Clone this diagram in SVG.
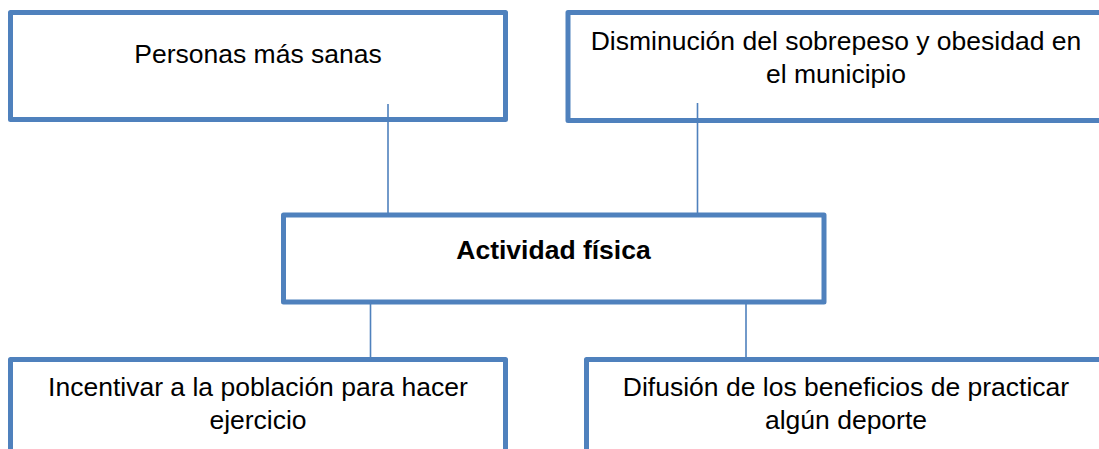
<svg xmlns="http://www.w3.org/2000/svg" width="1099" height="449" viewBox="0 0 1099 449">
<style>
.box{fill:#fff;stroke:#4F81BD;stroke-width:5;stroke-linejoin:round}
.conn{stroke:#4F81BD;stroke-width:1.6;fill:none}
text{font-family:"Liberation Sans",Arial,sans-serif;font-size:26.5px;fill:#000;text-anchor:middle}
.b{font-weight:bold}
</style>
<rect width="1099" height="449" fill="#fff"/>
<g id="n1"><rect class="box" x="10.5" y="12.5" width="495" height="107"/><text x="258" y="63">Personas más sanas</text></g>
<g id="n2"><rect class="box" x="568" y="12.5" width="560" height="108"/><text x="836" y="50">Disminución del sobrepeso y obesidad en</text><text x="836" y="83">el municipio</text></g>
<g id="n3"><rect class="box" x="283.5" y="215" width="540.5" height="87"/><text class="b" x="553.5" y="259">Actividad física</text></g>
<g id="n4"><rect class="box" x="10.5" y="359.5" width="495" height="120"/><text x="258" y="396">Incentivar a la población para hacer</text><text x="258" y="429">ejercicio</text></g>
<g id="n5"><rect class="box" x="586.5" y="359.5" width="560" height="120"/><text x="846" y="396">Difusión de los beneficios de practicar</text><text x="846" y="429">algún deporte</text></g>
<g id="connectors">
<line class="conn" x1="388" y1="104" x2="388" y2="215"/>
<line class="conn" x1="697.5" y1="103" x2="697.5" y2="215"/>
<line class="conn" x1="370.5" y1="302" x2="370.5" y2="359.5"/>
<line class="conn" x1="746" y1="302" x2="746" y2="359.5"/>
</g>
</svg>
